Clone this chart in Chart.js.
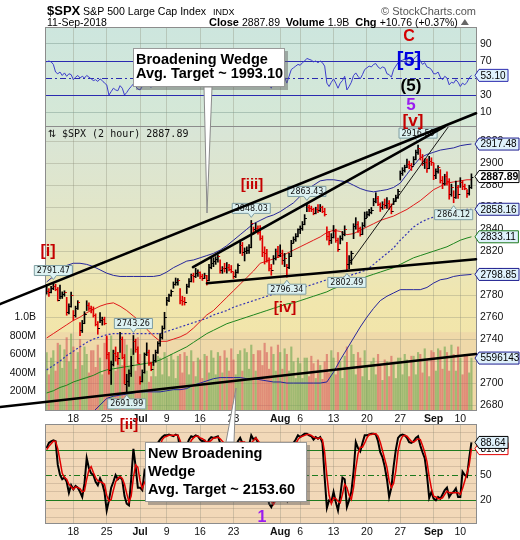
<!DOCTYPE html>
<html>
<head>
<meta charset="utf-8">
<script src="https://cdn.jsdelivr.net/npm/chart.js@4.4.1/dist/chart.umd.min.js"></script>
<style>
  html, body { margin: 0; padding: 0; background: #fff; }
  #wrap { position: relative; width: 520px; height: 540px; }
  canvas { position: absolute; left: 0; top: 0; }
</style>
</head>
<body>
<div id="wrap">
  <canvas id="rsi" width="520" height="540"></canvas>
  <canvas id="stoch" width="520" height="540"></canvas>
  <canvas id="price" width="520" height="540"></canvas>
</div>
<script>
const FONT = '"Liberation Sans", Arial, sans-serif';
Chart.defaults.font.family = FONT;
Chart.defaults.font.size = 10.5;
Chart.defaults.color = '#111';

// x axis: trading days from 12-Jun-2018, 3 two-hour bars per day
const tickDays = [4, 9, 14, 18, 23, 28, 35, 38, 43, 48, 53, 58, 62];
const tickLabels = ['18', '25', 'Jul', '9', '16', '23', 'Aug', '6', '13', '20', '27', 'Sep', '10'];

// 2-hour bars: high, low, close
const hi = [
  2789.8,2786,2788, 2791.5,2790,2787, 2789.1,2783,2784, 2778,2772,2782.8, 2766,2770,2775,
  2755,2757,2765, 2774.9,2773,2770, 2769.3,2763,2756, 2764.2,2760,2760, 2742.9,2728,2720,
  2730,2732.9,2728, 2746.1,2742,2726, 2708,2712,2724.3, 2743.3,2740,2733, 2706,2712,2727.3,
  2736.6,2730,2719, 2726,2730,2737.8, 2745,2752,2764.4, 2778,2781,2784.7, 2792,2795.6,2795,
  2785.9,2779,2778, 2790,2795,2799.2, 2800,2804.5,2803, 2801.2,2799,2800, 2798,2808,2814.2,
  2814,2815,2816.8, 2812.1,2806,2809, 2809.7,2808,2807, 2801,2803,2808.6, 2830,2828,2823,
  2824,2826,2848, 2842,2845.6,2843, 2843.2,2834,2824, 2821.7,2814,2808, 2816,2822,2824.5,
  2825.8,2821,2818, 2808,2818,2829.9, 2833,2836,2840.4, 2843,2847,2853.3, 2863.4,2862,2861,
  2859,2860,2862.4, 2862.5,2861,2859, 2842.2,2838,2836, 2843.4,2840,2832, 2834,2838,2843.1,
  2828,2816,2820, 2845,2850.5,2847, 2842,2846,2855.6, 2856,2858,2859.8, 2868,2873.2,2870,
  2864,2865,2867.5, 2868.8,2866,2863, 2868,2871,2876.2, 2893,2896,2898.3, 2903.8,2902,2900,
  2906,2912,2916.5, 2912.5,2908,2904, 2904,2906.3,2905, 2900.2,2895,2898, 2894.2,2888,2890,
  2892.1,2886,2881, 2875,2883.8,2880, 2886.9,2884,2881, 2876,2880,2890.4
];
const lo = [
  2781,2778.8,2782, 2785,2784,2774.7, 2776.5,2777,2779, 2761.7,2763,2769, 2757.1,2760,2767,
  2743.2,2746,2754, 2766,2766,2763.9, 2760,2752,2744.4, 2755,2752.7,2753, 2722,2708,2698.7,
  2715.6,2720,2717, 2728,2722,2699.4, 2692,2697,2706, 2726,2728,2718, 2699,2701,2709,
  2725,2716,2711.2, 2716,2719,2727, 2733.5,2740,2749, 2770.7,2774,2779, 2786.2,2789,2789,
  2772,2770.8,2771, 2781.5,2787,2792, 2791.7,2796,2797, 2795,2793.4,2795, 2789.2,2793,2804,
  2805.9,2808,2810, 2800,2799.8,2801, 2800,2802,2800.5, 2795.1,2796,2800, 2818,2816,2811.1,
  2817.7,2818,2823, 2835.3,2838,2835.5, 2830,2815,2808.3, 2810,2802,2798.1, 2808.1,2812,2814,
  2815,2808,2805.9, 2796.3,2804,2815, 2827.4,2829,2833, 2836,2839,2844, 2855.9,2856,2856,
  2853.1,2854,2855, 2856,2855,2852, 2830,2825.8,2827, 2832,2828,2819.9, 2826.6,2830,2834,
  2802.5,2804,2808, 2831.4,2840,2837, 2833.7,2835,2842, 2850.6,2852,2854, 2861.3,2864,2861.5,
  2856.1,2858,2859, 2859,2858,2854, 2862.4,2865,2868, 2884.7,2889,2892, 2896,2895,2893.5,
  2898.4,2903,2908, 2903,2898,2895.2, 2891.7,2895,2898, 2885.1,2886,2891, 2882,2876.9,2880,
  2880,2867.3,2870, 2864.1,2868,2868, 2878,2876,2875.9, 2868.9,2871,2877
];
const cl = [
  2784,2783,2786.9, 2788,2786,2775.6, 2779,2781,2782.5, 2765,2770,2779.7, 2762,2768,2773.8,
  2748,2755,2762.6, 2771,2768,2767.3, 2762,2754,2749.8, 2757,2758,2754.9, 2726,2712,2717.1,
  2727,2725,2723.1, 2740,2724,2699.6, 2702,2709,2716.3, 2738,2731,2718.4, 2702,2710,2726.7,
  2728,2718,2713.2, 2721,2728,2736.6, 2742,2750,2759.8, 2776,2780,2784.2, 2790,2792,2793.8,
  2776,2775,2774, 2788,2793,2798.3, 2797,2800,2801.3, 2797,2796,2798.4, 2794,2806,2809.6,
  2811,2813,2815.6, 2803,2805,2804.5, 2806,2804,2801.8, 2797,2801,2807, 2826,2819,2820.4,
  2821,2824,2846.1, 2840,2841,2837.4, 2832,2819,2818.8, 2812,2805,2802.6, 2814,2820,2816.3,
  2818,2812,2813.4, 2806,2816,2827.2, 2831,2834,2840.4, 2841,2845,2850.4, 2860,2859,2858.5,
  2855,2858,2857.7, 2860,2857,2853.6, 2834,2830,2833.3, 2838,2830,2821.9, 2832,2836,2840,
  2808,2812,2818.4, 2843,2845,2840.7, 2836,2844,2850.1, 2854,2856,2857.1, 2866,2868,2863,
  2860,2863,2861.8, 2864,2861,2857, 2866,2869,2874.7, 2891,2894,2896.7, 2899,2898,2897.5,
  2904,2910,2914, 2906,2900,2901.1, 2896,2902,2901.5, 2889,2893,2896.7, 2885,2882,2888.6,
  2884,2872,2878.1, 2869,2878,2871.7, 2883,2879,2877.1, 2873,2878,2887.89
];
// volume, millions of shares per bar
const vol = [
  620,380,560, 640,420,720, 700,450,650, 780,520,820, 680,440,620,
  760,480,680, 600,400,640, 640,460,700, 560,380,720, 780,540,800,
  640,420,620, 620,480,760, 700,460,660, 640,420,780, 600,380,620,
  420,300,360, 520,360,580, 560,380,620, 560,360,600, 540,340,580,
  600,400,620, 580,380,640, 520,360,560, 540,340,600, 580,400,640,
  560,380,620, 580,400,640, 560,420,660, 540,380,600, 640,420,660,
  620,440,700, 600,420,640, 640,480,720, 620,440,680, 600,420,700,
  620,440,660, 600,420,680, 520,340,560, 500,340,560, 560,360,580,
  500,340,540, 480,330,520, 600,400,640, 560,380,620, 520,340,580,
  680,460,700, 600,380,620, 560,360,640, 480,320,520, 560,380,600,
  480,320,540, 520,360,580, 500,340,560, 560,380,600, 540,360,580,
  580,380,620, 600,400,660, 540,360,640, 620,420,660, 640,440,680,
  620,420,700, 600,420,680, 560,380,600, 580,400,559.6143
];
// RSI(14)
const rsi = [
  69,70,69, 66,57,55, 57,53,56, 52,55,54, 48,51,53,
  50,52,50, 53,51,49, 47,48,46, 49,47,44, 42,30,34,
  38,36,35, 41,38,30, 33,37,40, 43,40,37, 36,40,47,
  45,41,39, 42,46,51, 53,57,62, 66,67,69, 70,71,70,
  60,58,57, 62,65,68, 67,70,69, 66,64,66, 60,68,71,
  70,71,72, 64,62,63, 64,62,60, 58,61,64, 69,65,63,
  62,64,74, 69,70,66, 60,50,51, 46,42,38, 47,52,50,
  53,48,51, 44,52,60, 62,64,66, 65,68,70, 73,72,71,
  69,70,68, 70,68,64, 44,40,45, 49,44,38, 44,47,52,
  36,40,45, 53,56,52, 49,54,60, 62,64,63, 66,67,63,
  61,63,62, 55,54,51, 60,64,68, 70,71,72, 70,69,68,
  72,75,77, 70,66,68, 63,62,60, 55,55,57, 51,48,52,
  50,42,45, 44,48,45, 40,44,42, 45,50,53.1
];
// slow stochastic %K and %D
const stK = [
  82,88,90, 91,90,62, 50,45,47, 42,29,38, 33,37,35,
  30,24,40, 70,58,52, 50,42,38, 46,40,30, 8,20,35,
  42,50,45, 48,44,25, 16,14,45, 81,60,35, 35,32,55,
  50,38,30, 55,75,88, 92,95,97, 97,98,97, 96,98,97,
  80,70,65, 85,92,96, 95,97,96, 92,90,91, 85,92,95,
  94,95,96, 88,86,87, 88,85,82, 78,84,90, 94,88,85,
  82,85,97, 92,94,88, 80,55,45, 30,16,12, 18,30,28,
  35,22,25, 20,55,80, 88,92,97, 95,97,99, 99,97,96,
  92,95,93, 95,88,47, 11,20,18, 30,18,8, 25,47,45,
  12,20,30, 54,89,82, 78,88,97, 97,98,99, 99,98,90,
  77,71,60, 45,24,35, 60,80,94, 97,98,97, 94,89,88,
  90,94,96, 85,77,70, 50,23,30, 22,20,24, 22,27,32,
  35,24,28, 30,34,24, 24,54,50, 48,70,88.64
];
const stD = [
  80,84,87, 90,90,81, 67,52,47, 45,39,36, 33,36,35,
  34,30,31, 45,56,60, 53,47,43, 42,41,39, 26,19,21,
  32,42,46, 48,46,39, 28,18,25, 47,62,59, 43,34,41,
  46,46,39, 41,53,73, 85,92,95, 96,97,97, 97,97,97,
  91,82,72, 73,81,91, 94,96,96, 94,93,91, 89,89,91,
  94,94,95, 93,90,87, 87,87,85, 82,82,84, 89,89,89,
  85,84,88, 91,94,91, 87,74,60, 43,30,19, 15,20,25,
  31,29,27, 22,33,52, 74,87,92, 95,96,97, 98,98,97,
  95,94,93, 94,92,77, 49,26,16, 23,22,19, 17,27,39,
  35,26,21, 35,58,75, 83,83,88, 94,98,98, 99,99,96,
  89,79,69, 59,43,35, 40,55,78, 90,96,97, 96,93,90,
  89,91,93, 92,85,77, 66,48,34, 25,24,22, 22,23,27,
  31,29,29, 29,29,29, 27,34,43, 52,62,81.3
];

// overlays, one value per trading day plus the last bar
const maRed = [
  2741,2745,2749,2753,2757,2760,2764,2767,2770,2772,
  2773,2770,2766,2761,2756,2749,2743,2738,2738,2740,
  2742,2745,2750,2756,2762,2766,2772,2778,2784,2790,
  2796,2802,2809,2811,2813,2815,2818,2821,2824,2827,
  2830,2833,2837,2839,2838,2835,2836,2839,2842,2845,
  2848,2850,2852,2855,2858,2862,2866,2871,2876,2879,
  2882,2883,2884,2885,2885
];
const bbUp = [
  2792,2797,2802,2807,2809,2809,2808,2806,2803,2800,
  2798,2797,2797,2797,2797,2797,2797,2798,2801,2805,
  2808,2811,2812,2814,2816,2818,2821,2825,2830,2835,
  2840,2845,2848,2851,2853,2856,2860,2864,2870,2876,
  2880,2884,2885,2885,2884,2883,2880,2877,2875,2874,
  2875,2876,2878,2882,2890,2898,2905,2908,2910,2912,
  2913,2914,2916,2917,2917.48
];
const bbMid = [
  2712,2716,2720,2725,2729,2733,2737,2740,2742,2744,
  2745,2745,2745,2745,2745,2745,2745,2745,2747,2749,
  2751,2753,2755,2757,2759,2762,2764,2766,2769,2771,
  2773,2775,2777,2779,2781,2782,2784,2785,2786,2788,
  2790,2792,2794,2795,2796,2797,2799,2801,2803,2808,
  2813,2818,2823,2830,2836,2842,2846,2849,2851,2853,
  2855,2856,2857,2858,2858.16
];
const bbLow = [
  2632,2635,2638,2643,2649,2657,2666,2674,2680,2686,
  2688,2689,2690,2691,2692,2692,2692,2692,2693,2694,
  2694,2695,2698,2700,2702,2704,2705,2705,2705,2705,
  2704,2704,2703,2702,2701,2701,2700,2700,2700,2700,
  2700,2700,2701,2710,2721,2731,2741,2751,2760,2768,
  2775,2779,2782,2785,2785,2785,2785,2787,2791,2794,
  2795,2797,2798,2798.5,2798.85
];
const maGreen = [
  2691,2693,2696,2698,2701,2703,2705,2707,2710,2712,
  2713,2714,2715,2716,2717,2718,2719,2721,2724,2727,
  2730,2733,2737,2741,2745,2748,2751,2754,2756,2758,
  2760,2762,2764,2766,2768,2770,2772,2773,2775,2777,
  2779,2781,2783,2786,2788,2790,2792,2794,2797,2799,
  2801,2803,2805,2808,2811,2814,2816,2818,2820,2822,
  2824,2827,2830,2832,2833.11
];

// labelled highs and lows
const pivotBars = [3, 36, 39, 92, 108, 117, 135, 167, 183];
const pivotPrices = [2791.47, 2691.99, 2743.26, 2848.03, 2796.34, 2863.43, 2802.49, 2916.50, 2864.12];
const pivotIsHigh = [true, false, true, true, false, true, false, true, false];

const barX = i => Math.floor(i / 3) + (i % 3) / 3;
const maDays = Array.from({ length: 64 }, (_, i) => i).concat(63.67);
const pts = (arr, xf) => arr.map((v, i) => ({ x: xf(i), y: v }));
const isUp = i => i === 0 || cl[i] >= cl[i - 1];

const GRID = 'rgba(140,140,120,0.35)';

function xAxis(showLabels) {
  return {
    type: 'linear', min: -0.1, max: 64.35, offset: false,
    afterBuildTicks: s => { s.ticks = tickDays.map(v => ({ value: v })); },
    afterFit: s => { s.height = showLabels ? 14 : 0; },
    border: { display: false },
    grid: { color: GRID, drawTicks: false, offset: false },
    ticks: {
      display: showLabels, padding: 3, autoSkip: false, maxRotation: 0,
      callback: (v, i) => tickLabels[i],
      font: c => ({ size: 10.5, weight: /^[A-Z]/.test(tickLabels[c.index] || '') ? 'bold' : 'normal' })
    }
  };
}

function panelBg(stops, band) {
  return {
    id: 'panelBg',
    beforeDraw(ch) {
      const { ctx, chartArea: a } = ch;
      const g = ctx.createLinearGradient(0, a.top, 0, a.bottom);
      stops.forEach(([p, c]) => g.addColorStop(p, c));
      ctx.save();
      ctx.fillStyle = g;
      ctx.fillRect(a.left, a.top, a.right - a.left, a.bottom - a.top);
      if (band) {
        const top = a.bottom - (a.bottom - a.top) * band[0];
        ctx.fillStyle = band[1];
        ctx.fillRect(a.left, top, a.right - a.left, a.bottom - top);
      }
      ctx.restore();
    },
    afterDatasetsDraw(ch) {
      const { ctx, chartArea: a } = ch;
      ctx.save();
      ctx.strokeStyle = '#8c8c8c';
      ctx.lineWidth = 1;
      ctx.strokeRect(a.left - 0.5, a.top - 0.5, a.right - a.left + 1, a.bottom - a.top + 1);
      ctx.restore();
    }
  };
}

function tag(ctx, y, text, border, fill, bold) {
  ctx.save();
  ctx.font = (bold ? 'bold 10.5px ' : '10px ') + FONT;
  const w = ctx.measureText(text).width;
  const x0 = 475, x1 = 479, x2 = Math.min(x1 + w + 4, 519);
  ctx.beginPath();
  ctx.moveTo(x0, y);
  ctx.lineTo(x1, y - 6);
  ctx.lineTo(x2, y - 6);
  ctx.lineTo(x2, y + 6);
  ctx.lineTo(x1, y + 6);
  ctx.closePath();
  ctx.fillStyle = fill;
  ctx.fill();
  ctx.strokeStyle = border;
  ctx.lineWidth = 1;
  ctx.stroke();
  ctx.fillStyle = '#000';
  ctx.textBaseline = 'middle';
  ctx.textAlign = 'left';
  ctx.fillText(text, x1 + 1.5, y + 0.5);
  ctx.restore();
}

function hLine(ctx, a, y, color, dash, width) {
  ctx.save();
  ctx.strokeStyle = color;
  ctx.lineWidth = width || 1;
  ctx.setLineDash(dash || []);
  ctx.beginPath();
  ctx.moveTo(a.left, Math.round(y) + 0.5);
  ctx.lineTo(a.right, Math.round(y) + 0.5);
  ctx.stroke();
  ctx.restore();
}

// ---------- RSI panel ----------
new Chart(document.getElementById('rsi'), {
  type: 'line',
  data: { datasets: [{ data: pts(rsi, barX), borderColor: '#3d3dcc', borderWidth: 1, pointRadius: 0, tension: 0 }] },
  options: {
    responsive: false, animation: false, devicePixelRatio: 1,
    layout: { padding: { top: 28, bottom: 413, left: 46, right: 0 } },
    plugins: { legend: { display: false }, tooltip: { enabled: false } },
    scales: {
      x: xAxis(false),
      y: {
        position: 'right', min: -7.6, max: 108.8,
        afterBuildTicks: s => { s.ticks = [10, 30, 50, 70, 90].map(v => ({ value: v })); },
        afterFit: s => { s.width = 44; },
        border: { display: false },
        grid: { drawTicks: false, color: c => (c.tick && (c.tick.value === 30 || c.tick.value === 70 || c.tick.value === 50)) ? 'rgba(0,0,0,0)' : 'rgba(120,150,140,0.45)' },
        ticks: { padding: 4, autoSkip: false }
      }
    }
  },
  plugins: [
    panelBg([[0, '#cde6de'], [1, '#d6e8d6']]),
    {
      id: 'rsiLines',
      beforeDatasetsDraw(ch) {
        const { ctx, chartArea: a } = ch, ys = ch.scales.y;
        hLine(ctx, a, ys.getPixelForValue(70), '#2b2bb0');
        hLine(ctx, a, ys.getPixelForValue(30), '#2b2bb0');
        hLine(ctx, a, ys.getPixelForValue(50), '#2b2bb0', [6, 3, 2, 3]);
      },
      afterDraw(ch) {
        tag(ch.ctx, ch.scales.y.getPixelForValue(rsi[rsi.length - 1]), rsi[rsi.length - 1].toFixed(2), '#2b2bb0', '#dff1fb');
      }
    }
  ]
});

// ---------- Stochastic panel ----------
new Chart(document.getElementById('stoch'), {
  type: 'line',
  data: { datasets: [
    { data: pts(stD, barX), borderColor: '#e00000', borderWidth: 1.5, pointRadius: 0, tension: 0 },
    { data: pts(stK, barX), borderColor: '#000', borderWidth: 2, pointRadius: 0, tension: 0 }
  ] },
  options: {
    responsive: false, animation: false, devicePixelRatio: 1,
    layout: { padding: { top: 425, bottom: 3, left: 46, right: 0 } },
    plugins: { legend: { display: false }, tooltip: { enabled: false } },
    scales: {
      x: xAxis(true),
      y: {
        position: 'right', min: -6.9, max: 109.3,
        afterBuildTicks: s => { s.ticks = [0, 10, 20, 30, 40, 50, 60, 70, 80, 90, 100].map(v => ({ value: v })); },
        afterFit: s => { s.width = 44; },
        border: { display: false },
        grid: { drawTicks: false, color: c => (c.tick && [20, 50, 80].includes(c.tick.value)) ? 'rgba(0,0,0,0)' : 'rgba(150,130,110,0.3)' },
        ticks: { padding: 4, autoSkip: false, callback: v => ([20, 50, 80].includes(v) ? String(v) : '') }
      }
    }
  },
  plugins: [
    panelBg([[0, '#f2d9b9'], [1, '#f2d8b8']]),
    {
      id: 'stLines',
      beforeDatasetsDraw(ch) {
        const { ctx, chartArea: a } = ch, ys = ch.scales.y;
        hLine(ctx, a, ys.getPixelForValue(80), '#1e7a1e');
        hLine(ctx, a, ys.getPixelForValue(20), '#1e7a1e');
        hLine(ctx, a, ys.getPixelForValue(50), '#1e7a1e', [6, 3, 2, 3]);
      },
      afterDraw(ch) {
        const ys = ch.scales.y;
        tag(ch.ctx, ys.getPixelForValue(stD[stD.length - 1]), stD[stD.length - 1].toFixed(2), '#e00000', '#fff');
        tag(ch.ctx, ys.getPixelForValue(stK[stK.length - 1]), stK[stK.length - 1].toFixed(2), '#000', '#dff1fb');
      }
    }
  ]
});

// ---------- Price panel (top layer, also carries the annotations) ----------
const wedgeLines = [
  [[-7.0, 2771.8], [64.35, 2945.5], 2.6],
  [[21.93, 2805.5], [59.7, 2933.6], 2.6],
  [[24.03, 2790.9], [64.35, 2812.7], 2.6],
  [[-7.0, 2678.2], [64.35, 2726.4], 2.6],
  [[45.46, 2809.1], [60.15, 2932.7], 0.9]
];
const waveLabels = [
  ['C', 409, 41, '#d40000', 16],
  ['[5]', 409, 66, '#0000e0', 20],
  ['(5)', 411, 91, '#000', 17],
  ['5', 411, 110, '#9a1cf0', 17],
  ['[v]', 413, 126, '#c40000', 17],
  ['[iii]', 252, 189, '#c40000', 15],
  ['[i]', 48, 256, '#c40000', 16],
  ['[iv]', 285, 312, '#c40000', 15],
  ['[ii]', 129, 429, '#c40000', 15],
  ['1', 262, 522, '#9a1cf0', 16]
];

function pivotBox(ctx, x, yPt, text, high) {
  ctx.save();
  ctx.font = '8px "DejaVu Sans", sans-serif';
  const w = ctx.measureText(text).width + 5, h = 10;
  const cy = high ? yPt - 12 : yPt + 12;
  const top = cy - h / 2, bot = cy + h / 2;
  ctx.beginPath();
  ctx.moveTo(x - w / 2, top);
  if (!high) { ctx.lineTo(x - 3, top); ctx.lineTo(x, top - 4); ctx.lineTo(x + 3, top); }
  ctx.lineTo(x + w / 2, top);
  ctx.lineTo(x + w / 2, bot);
  if (high) { ctx.lineTo(x + 3, bot); ctx.lineTo(x, bot + 4); ctx.lineTo(x - 3, bot); }
  ctx.lineTo(x - w / 2, bot);
  ctx.closePath();
  ctx.fillStyle = '#dcf1f1';
  ctx.fill();
  ctx.strokeStyle = '#7f9ea2';
  ctx.lineWidth = 1;
  ctx.stroke();
  ctx.fillStyle = '#111';
  ctx.textAlign = 'center';
  ctx.textBaseline = 'middle';
  ctx.fillText(text, x, cy + 0.5);
  ctx.restore();
}

function callout(ctx, box, lines, base, lineH, tip, pb) {
  ctx.save();
  ctx.fillStyle = 'rgba(90,90,90,0.45)';
  ctx.fillRect(box[0] + 3, box[1] + 3, box[2] - box[0], box[3] - box[1]);
  ctx.beginPath();
  ctx.moveTo(pb[0], pb[2]);
  ctx.lineTo(tip[0], tip[1]);
  ctx.lineTo(pb[1], pb[2]);
  ctx.closePath();
  ctx.fillStyle = '#fff';
  ctx.fill();
  ctx.strokeStyle = '#8a8a8a';
  ctx.lineWidth = 1;
  ctx.stroke();
  ctx.fillStyle = '#fff';
  ctx.fillRect(box[0], box[1], box[2] - box[0], box[3] - box[1]);
  ctx.strokeStyle = '#9a9a9a';
  ctx.strokeRect(box[0] + 0.5, box[1] + 0.5, box[2] - box[0] - 1, box[3] - box[1] - 1);
  ctx.fillStyle = '#000';
  ctx.font = 'bold 14.5px ' + FONT;
  ctx.textAlign = 'left';
  ctx.textBaseline = 'alphabetic';
  lines.forEach((t, k) => ctx.fillText(t, box[0] + 3, base + k * lineH));
  ctx.restore();
}

const priceOverlay = {
  id: 'priceOverlay',
  afterDatasetsDraw(ch) {
    const { ctx } = ch, xs = ch.scales.x, ys = ch.scales.y;
    ctx.save();
    ctx.lineWidth = 1;
    cl.forEach((c, i) => {
      const x = xs.getPixelForValue(barX(i));
      ctx.strokeStyle = isUp(i) ? '#000' : '#e00000';
      const yc = Math.round(ys.getPixelForValue(c)) + 0.5;
      ctx.beginPath(); ctx.moveTo(x, yc); ctx.lineTo(x + 2, yc); ctx.stroke();
      if (i > 0) {
        const yo = Math.round(ys.getPixelForValue(cl[i - 1])) + 0.5;
        ctx.beginPath(); ctx.moveTo(x - 2, yo); ctx.lineTo(x, yo); ctx.stroke();
      }
    });
    ctx.restore();
  },
  afterDraw(ch) {
    const { ctx } = ch, xs = ch.scales.x, ys = ch.scales.y, vs = ch.scales.vol;
    const px = d => xs.getPixelForValue(d), py = p => ys.getPixelForValue(p);

    // pivot labels
    pivotBars.forEach((b, k) => pivotBox(ctx, px(barX(b)), py(pivotPrices[k]), pivotPrices[k].toFixed(2), pivotIsHigh[k]));

    // wedge lines
    ctx.save();
    ctx.strokeStyle = '#000';
    ctx.lineCap = 'round';
    wedgeLines.forEach(([a, b, w]) => {
      ctx.lineWidth = w;
      ctx.beginPath();
      ctx.moveTo(px(a[0]), py(a[1]));
      ctx.lineTo(px(b[0]), py(b[1]));
      ctx.stroke();
    });
    ctx.restore();

    // right axis tags
    const n = cl.length - 1;
    tag(ctx, py(bbUp[bbUp.length - 1]), bbUp[bbUp.length - 1].toFixed(2), '#1f1f90', '#dff1fb');
    tag(ctx, py(cl[n]), cl[n].toFixed(2), '#000', '#fff', true);
    tag(ctx, py(bbMid[bbMid.length - 1]), bbMid[bbMid.length - 1].toFixed(2), '#1f1f90', '#dff1fb');
    tag(ctx, py(maGreen[maGreen.length - 1]), maGreen[maGreen.length - 1].toFixed(2), '#1e7a1e', '#dff1fb');
    tag(ctx, py(bbLow[bbLow.length - 1]), bbLow[bbLow.length - 1].toFixed(2), '#1f1f90', '#dff1fb');
    tag(ctx, vs.getPixelForValue(vol[n] * 1e6), String(Math.round(vol[n] * 1e4)), '#1f1f90', '#dff1fb');

    // legend text in the panel
    ctx.save();
    ctx.fillStyle = '#111';
    ctx.font = '10px "DejaVu Sans", sans-serif';
    ctx.fillText('\u21C5', 48, 137);
    ctx.font = '10px "DejaVu Sans Mono", monospace';
    ctx.fillText('$SPX (2 hour) 2887.89', 62, 137);
    ctx.restore();

    // wave labels
    ctx.save();
    ctx.textAlign = 'center';
    ctx.textBaseline = 'alphabetic';
    waveLabels.forEach(([t, x, y, c, s]) => {
      ctx.font = 'bold ' + s + 'px ' + FONT;
      ctx.fillStyle = c;
      ctx.fillText(t, x, y);
    });
    ctx.restore();

    // callouts
    callout(ctx, [133, 48, 285, 87], ['Broadening Wedge', 'Avg. Target ~ 1993.10'], 63.5, 14.5, [207, 213], [204, 212, 87]);
    callout(ctx, [145, 442, 307, 502], ['New Broadening', 'Wedge', 'Avg. Target ~ 2153.60'], 458, 18, [236, 388], [226, 234, 442]);

    // header
    ctx.save();
    ctx.textBaseline = 'alphabetic';
    ctx.fillStyle = '#000';
    ctx.font = 'bold 13px ' + FONT;
    ctx.fillText('$SPX', 47, 15);
    ctx.font = '10.6px ' + FONT;
    ctx.fillText('S&P 500 Large Cap Index', 83, 15);
    ctx.font = '9px ' + FONT;
    ctx.fillText('INDX', 213, 15);
    ctx.font = '10.5px ' + FONT;
    ctx.fillText('11-Sep-2018', 47, 26);
    ctx.fillStyle = '#555';
    ctx.font = '11px ' + FONT;
    ctx.textAlign = 'right';
    ctx.fillText('\u00A9 StockCharts.com', 476, 15);
    ctx.textAlign = 'left';
    const parts = [['Close ', true], ['2887.89  ', false], ['Volume ', true], ['1.9B  ', false], ['Chg ', true], ['+10.76 (+0.37%)', false]];
    let x = 209;
    parts.forEach(([t, b]) => {
      ctx.font = (b ? 'bold 11px ' : '10.5px ') + FONT;
      ctx.fillStyle = '#000';
      ctx.fillText(t, x, 26);
      x += ctx.measureText(t).width;
    });
    ctx.fillStyle = '#666';
    ctx.beginPath();
    ctx.moveTo(x + 3, 25); ctx.lineTo(x + 11, 25); ctx.lineTo(x + 7, 19); ctx.closePath();
    ctx.fill();
    ctx.restore();
  }
};

new Chart(document.getElementById('price'), {
  type: 'bar',
  data: { datasets: [
    { label: 'Volume', yAxisID: 'vol', grouped: false, order: 10, barThickness: 1.5,
      data: pts(vol.map(v => v * 1e6), barX),
      backgroundColor: vol.map((v, i) => isUp(i) ? 'rgba(112,168,82,0.62)' : 'rgba(214,86,86,0.58)') },
    { type: 'line', yAxisID: 'y', order: 6, data: pts(bbUp, i => maDays[i]), borderColor: '#26269c', borderWidth: 1, pointRadius: 0 },
    { type: 'line', yAxisID: 'y', order: 6, data: pts(bbLow, i => maDays[i]), borderColor: '#26269c', borderWidth: 1, pointRadius: 0 },
    { type: 'line', yAxisID: 'y', order: 6, data: pts(bbMid, i => maDays[i]), borderColor: '#3434b4', borderWidth: 1.2, borderDash: [2, 2], pointRadius: 0 },
    { type: 'line', yAxisID: 'y', order: 6, data: pts(maGreen, i => maDays[i]), borderColor: '#1d851d', borderWidth: 1, pointRadius: 0 },
    { type: 'line', yAxisID: 'y', order: 6, data: pts(maRed, i => maDays[i]), borderColor: '#e01a1a', borderWidth: 1, pointRadius: 0 },
    { label: '$SPX', yAxisID: 'y', grouped: false, order: 1, barThickness: 1,
      data: hi.map((h, i) => ({ x: barX(i), y: [lo[i], h] })),
      backgroundColor: cl.map((c, i) => isUp(i) ? '#000' : '#e00000') }
  ] },
  options: {
    responsive: false, animation: false, devicePixelRatio: 1,
    layout: { padding: { top: 127, bottom: 116, left: 0, right: 0 } },
    plugins: { legend: { display: false }, tooltip: { enabled: false } },
    scales: {
      x: xAxis(true),
      y: {
        position: 'right', min: 2675.5, max: 2933,
        afterFit: s => { s.width = 44; },
        border: { display: false },
        grid: { color: GRID, drawTicks: false },
        ticks: { stepSize: 20, includeBounds: false, autoSkip: false, padding: 4, callback: v => String(v) }
      },
      vol: {
        position: 'left', min: 0, max: 3050e6,
        afterBuildTicks: s => { s.ticks = [200e6, 400e6, 600e6, 800e6, 1000e6].map(v => ({ value: v })); },
        afterFit: s => { s.width = 46; },
        border: { display: false },
        grid: { display: false },
        ticks: { padding: 2, autoSkip: false, callback: v => (v >= 1e9 ? (v / 1e9).toFixed(1) + 'B' : v / 1e6 + 'M') }
      }
    }
  },
  plugins: [
    panelBg([[0, '#d8e5d7'], [0.35, '#e4e6c6'], [0.62, '#f1e6ad'], [1, '#f3e3a4']], [0.275, 'rgba(236,196,168,0.35)']),
    priceOverlay
  ]
});
</script>
</body>
</html>
